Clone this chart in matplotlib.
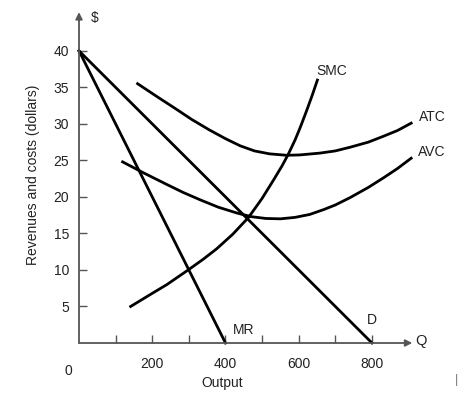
import numpy as np
import matplotlib
matplotlib.use('Agg')
import matplotlib.pyplot as plt

plt.rcParams['font.family'] = ['Liberation Sans', 'DejaVu Sans']

# demand and marginal revenue (straight lines)
d_x = [0, 800]
d_y = [40, 0]
mr_x = [0, 400]
mr_y = [40, 0]

# cost curves
smc_x = [141, 200, 240, 301, 340, 376, 420, 463, 500, 531, 555, 572, 590, 604, 620, 636, 651]
smc_y = [5.0, 6.8, 8.0, 10.1, 11.5, 12.9, 14.9, 17.2, 19.8, 22.3, 24.3, 25.9, 27.8, 29.5, 31.6, 33.8, 36.0]

atc_x = [160, 217, 260, 308, 355, 399, 440, 479, 520, 567, 603, 658, 700, 740, 790, 831, 870, 907]
atc_y = [35.5, 33.6, 32.2, 30.6, 29.2, 28.0, 27.0, 26.3, 25.9, 25.7, 25.75, 26.0, 26.3, 26.8, 27.5, 28.3, 29.1, 30.1]

avc_x = [119, 176, 240, 285, 331, 380, 431, 470, 510, 550, 590, 630, 670, 700, 740, 790, 831, 870, 907]
avc_y = [24.8, 23.3, 21.7, 20.6, 19.6, 18.6, 17.8, 17.3, 17.05, 17.0, 17.2, 17.6, 18.3, 18.9, 19.9, 21.3, 22.6, 23.9, 25.3]

xticks = [100, 200, 300, 400, 500, 600, 700, 800]
xlabels = ['', '200', '', '400', '', '600', '', '800']
yticks = [5, 10, 15, 20, 25, 30, 35, 40]

fig = plt.figure(figsize=(4.74, 3.96), dpi=100)
ax = fig.add_axes([79 / 474, 53 / 396, 0.7, 0.83])
ax.set_xlim(0, 906)
ax.set_ylim(0, 45)

axis_col = '#555555'
for s in ax.spines.values():
    s.set_visible(False)
ax.annotate('', xy=(910, 0), xytext=(0, 0), annotation_clip=False,
            arrowprops=dict(arrowstyle='-|>', color=axis_col, lw=1.3,
                            shrinkA=0, shrinkB=0, mutation_scale=10))
ax.annotate('', xy=(0, 45.3), xytext=(0, 0), annotation_clip=False,
            arrowprops=dict(arrowstyle='-|>', color=axis_col, lw=1.3,
                            shrinkA=0, shrinkB=0, mutation_scale=10))

lw = 2.0
ax.plot(d_x, d_y, color='black', lw=lw, clip_on=False)
ax.plot(mr_x, mr_y, color='black', lw=lw, clip_on=False)
ax.plot(smc_x, smc_y, color='black', lw=lw, solid_joinstyle='round')
ax.plot(atc_x, atc_y, color='black', lw=lw, solid_joinstyle='round', clip_on=False)
ax.plot(avc_x, avc_y, color='black', lw=lw, solid_joinstyle='round', clip_on=False)

ax.set_xticks(xticks)
ax.set_xticklabels(xlabels)
ax.set_yticks(yticks)
ax.tick_params(direction='in', length=6, width=1, color=axis_col,
               labelsize=10, labelcolor='#222222')
ax.tick_params(axis='x', pad=10)
ax.tick_params(axis='y', pad=7)

tc = '#222222'
ax.text(-30, -3.9, '0', ha='center', va='center', fontsize=10, color=tc)
ax.text(44, 44.5, '$', ha='center', va='center', fontsize=10, color=tc)
ax.text(918, 0.3, 'Q', ha='left', va='center', fontsize=10.5, color=tc)
ax.text(690, 37.2, 'SMC', ha='center', va='center', fontsize=10, color=tc)
ax.text(964, 31.0, 'ATC', ha='center', va='center', fontsize=10, color=tc)
ax.text(964, 26.2, 'AVC', ha='center', va='center', fontsize=10, color=tc)
ax.text(449, 1.8, 'MR', ha='center', va='center', fontsize=10, color=tc)
ax.text(800, 3.1, 'D', ha='center', va='center', fontsize=10, color=tc)

fig.text(222 / 474, 1 - 383 / 396, 'Output', ha='center', va='center', fontsize=10, color=tc)
fig.text(33 / 474, 1 - 175 / 396, 'Revenues and costs (dollars)', rotation=90,
         ha='center', va='center', fontsize=10, color=tc)
fig.text(457 / 474, 1 - 380 / 396, '|', ha='center', va='center', fontsize=9, color='#777777')

fig.savefig('out.png', dpi=100)
